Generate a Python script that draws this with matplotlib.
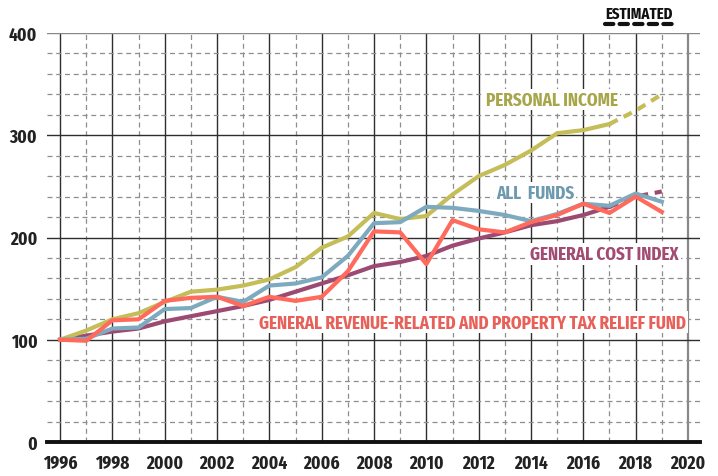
import numpy as np
import matplotlib
matplotlib.use("Agg")
import matplotlib.pyplot as plt

years = list(range(1996, 2020))

personal_income = [100, 109, 120, 126, 137, 147, 149, 153, 159, 171, 190, 201,
                   224, 218, 221, 242, 260, 271, 285, 302, 305, 311, 324, 340]
all_funds = [100, 101, 111, 112, 130, 131, 142, 137, 153, 155, 161, 182,
             214, 215, 230, 229, 226, 222, 216, 223, 233, 231, 243, 235]
gen_revenue = [100, 99, 119, 120, 138, 141, 142, 133, 142, 138, 142, 167,
               206, 205, 174, 217, 208, 205, 215, 222, 233, 224, 240, 225]
cost_index = [100, 104, 108, 111, 118, 123, 128, 133, 139, 147, 155, 163,
              172, 176, 182, 192, 199, 205, 212, 216, 222, 230, 240, 245]
est_start = 2017  # estimated from here on (dashed)

c_pi, c_pi_t = "#c4bd58", "#a8a64b"
c_af, c_af_t = "#7eaabf", "#6d9aae"
c_gr, c_gr_t = "#ff6a5c", "#e8605a"
c_ci, c_ci_t = "#9c4a71", "#a24b73"

font = ["Fira Sans Extra Condensed", "Roboto Condensed", "DejaVu Sans"]

fig = plt.figure(figsize=(7.18, 4.77), dpi=100)
ax = fig.add_axes([47 / 718, 34 / 477, 653 / 718, 409 / 477])
ax.set_xlim(1995.5, 2020.46)
ax.set_ylim(0, 400)

# grid
for yr in range(1996, 2021):
    if yr % 2 == 0:
        ax.axvline(yr, color="#2e2e2e" if yr < 2020 else "#888888", lw=1.0 if yr < 2020 else 1.6, zorder=1)
    else:
        ax.axvline(yr, color="#8e8e8e", lw=0.9, ls=(0, (4, 3)), zorder=1)
for v in range(20, 401, 20):
    if v % 100 == 0:
        ax.axhline(v, color="#2e2e2e" if v < 400 else "#888888", lw=1.0, zorder=1)
    else:
        ax.axhline(v, color="#8e8e8e", lw=0.9, ls=(0, (4, 3)), zorder=1)

yrs = np.array(years)
k = years.index(est_start)
lw = 3.0
dash = (0, (2.2, 1.6))
ax.plot(yrs[:k + 1], cost_index[:k + 1], color=c_ci, lw=lw, zorder=3)
ax.plot(yrs[k:], cost_index[k:], color=c_ci, lw=lw, ls=dash, zorder=3)
ax.plot(yrs[:k + 1], personal_income[:k + 1], color=c_pi, lw=lw, zorder=4)
ax.plot(yrs[k:], personal_income[k:], color=c_pi, lw=lw, ls=dash, zorder=4)
ax.plot(yrs, all_funds, color=c_af, lw=lw, zorder=5)
ax.plot(yrs, gen_revenue, color=c_gr, lw=lw, zorder=6)

for s in ["top", "right", "left"]:
    ax.spines[s].set_visible(False)
ax.spines["bottom"].set_linewidth(2.8)
ax.spines["bottom"].set_color("#111111")
ax.spines["bottom"].set_zorder(7)

ax.set_xticks(range(1996, 2021, 2))
ax.set_yticks(range(0, 401, 100))
ax.tick_params(length=0)
ax.tick_params(axis="x", pad=9)
ax.tick_params(axis="y", pad=7)
for lab in ax.get_xticklabels() + ax.get_yticklabels():
    lab.set_fontfamily(font)
    lab.set_fontweight("bold")
    lab.set_fontsize(13.5)
    lab.set_color("#222222")

box = dict(facecolor="white", edgecolor="none", pad=1.5)
tk = dict(fontfamily=font, fontweight="bold", fontsize=13.3, ha="center", va="center", zorder=8)
ax.text(2014.8, 335, "PERSONAL INCOME", color=c_pi_t, bbox=box, **tk)
ax.text(2014.15, 244, "ALL  FUNDS", color=c_af_t, bbox=box, **tk)
ax.text(2016.8, 184, "GENERAL COST INDEX", color=c_ci_t, bbox=box, **tk)
ax.text(2011.76, 117, "GENERAL REVENUE-RELATED AND PROPERTY TAX RELIEF FUND",
        color=c_gr_t, bbox=box, **tk)

fig.text(639 / 718, 1 - 14 / 477, "ESTIMATED", fontfamily=font, fontweight="bold",
         fontsize=11.5, ha="center", va="center", color="#111111")
fig.add_artist(plt.Line2D([605 / 718, 676 / 718], [1 - 25 / 477] * 2, color="#111111",
                          lw=3, ls=(0, (2.0, 1.5)), dash_capstyle="round"))

fig.savefig("out.png", dpi=100)
